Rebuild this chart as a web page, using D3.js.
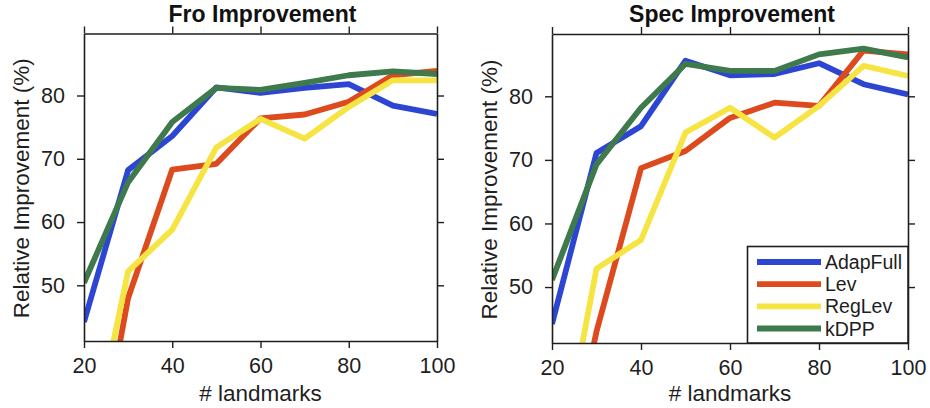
<!DOCTYPE html>
<html>
<head>
<meta charset="utf-8">
<script src="https://cdn.jsdelivr.net/npm/d3@7/dist/d3.min.js"></script>
<style>
  html, body { margin: 0; padding: 0; background: #fff; }
  svg { display: block; font-family: "Liberation Sans", Arial, Helvetica, sans-serif; }
</style>
</head>
<body>
<svg id="chart" width="930" height="408"></svg>
<script>
// Number of landmarks on the x axis
const landmarks = [20, 30, 40, 50, 60, 70, 80, 90, 100];

// Relative improvement (%) — Frobenius norm
const adapFullFro = [44.2, 68.2, 73.6, 81.3, 80.4, 81.2, 81.8, 78.4, 77.1];
const levFro      = [10.0, 48.0, 68.3, 69.2, 76.4, 77.0, 79.0, 83.2, 83.9];
const regLevFro   = [19.0, 52.2, 58.8, 71.8, 76.3, 73.2, 78.2, 82.4, 82.4];
const kdppFro     = [50.4, 66.3, 75.8, 81.2, 80.9, 82.0, 83.2, 83.8, 83.4];

// Relative improvement (%) — spectral norm
const adapFullSpec = [44.2, 71.1, 75.3, 85.6, 83.3, 83.5, 85.2, 81.9, 80.3];
const levSpec      = [10.0, 43.0, 68.7, 71.4, 76.6, 79.0, 78.5, 87.2, 86.6];
const regLevSpec   = [16.0, 52.9, 57.4, 74.3, 78.2, 73.5, 78.5, 84.8, 83.2];
const kdppSpec     = [51.1, 69.3, 78.2, 85.1, 84.0, 84.0, 86.6, 87.5, 86.1];

const seriesNames = ["AdapFull", "Lev", "RegLev", "kDPP"];
const seriesColors = ["#2d45d3", "#dd4a1e", "#f6e443", "#3e7a4c"];
const xTicks = [20, 40, 60, 80, 100];
const yTicks = [50, 60, 70, 80];

const panels = [
  { title: "Fro Improvement", series: [adapFullFro, levFro, regLevFro, kdppFro],
    box: { x0: 84, x1: 437, y0: 33.5, y1: 341 }, legend: false },
  { title: "Spec Improvement", series: [adapFullSpec, levSpec, regLevSpec, kdppSpec],
    box: { x0: 552, x1: 908, y0: 34, y1: 343 }, legend: true }
];

const svg = d3.select("#chart");
const ink = "#1e1e1e";

panels.forEach((p, pi) => {
  const b = p.box;
  const x = d3.scaleLinear().domain([20, 100]).range([b.x0, b.x1]);
  const y = d3.scaleLinear().domain([41.2, 89.8]).range([b.y1, b.y0]);
  const g = svg.append("g");

  const clipId = "clip" + pi;
  svg.append("clipPath").attr("id", clipId)
    .append("rect").attr("x", b.x0).attr("y", b.y0)
    .attr("width", b.x1 - b.x0).attr("height", b.y1 - b.y0);

  const line = d3.line()
    .x((d, i) => x(landmarks[i]))
    .y(d => y(d));

  const lines = g.append("g").attr("clip-path", `url(#${clipId})`);
  p.series.forEach((vals, si) => {
    lines.append("path")
      .datum(vals)
      .attr("d", line)
      .attr("fill", "none")
      .attr("stroke", seriesColors[si])
      .attr("stroke-width", 5.8)
      .attr("stroke-linejoin", "round");
  });

  // Axes on all four sides, ticks pointing outward
  const styleAxis = sel => {
    sel.select(".domain").attr("stroke", ink).attr("stroke-width", 1.6);
    sel.selectAll(".tick line").attr("stroke", ink).attr("stroke-width", 1.4);
  };
  const bottom = g.append("g").attr("transform", `translate(0,${b.y1})`)
    .call(d3.axisBottom(x).tickValues(xTicks).tickSize(7).tickSizeOuter(0).tickPadding(10));
  bottom.call(styleAxis);
  bottom.selectAll(".tick text").attr("font-size", 21.5).attr("fill", ink)
    .attr("font-family", "'Liberation Sans', Arial, sans-serif");

  const top = g.append("g").attr("transform", `translate(0,${b.y0})`)
    .call(d3.axisTop(x).tickValues(xTicks).tickSize(7).tickSizeOuter(0).tickFormat(""));
  top.call(styleAxis);

  const left = g.append("g").attr("transform", `translate(${b.x0},0)`)
    .call(d3.axisLeft(y).tickValues(yTicks).tickSize(7).tickSizeOuter(0).tickPadding(12));
  left.call(styleAxis);
  left.selectAll(".tick text").attr("font-size", 21.5).attr("fill", ink)
    .attr("font-family", "'Liberation Sans', Arial, sans-serif");

  const right = g.append("g").attr("transform", `translate(${b.x1},0)`)
    .call(d3.axisRight(y).tickValues(yTicks).tickSize(7).tickSizeOuter(0).tickFormat(""));
  right.call(styleAxis);

  const cx = (b.x0 + b.x1) / 2;
  // Title
  g.append("text").attr("x", cx + 2).attr("y", 22)
    .attr("text-anchor", "middle").attr("font-size", 23).attr("font-weight", "bold")
    .attr("fill", "#111").text(p.title);
  // X label
  g.append("text").attr("x", cx).attr("y", 401)
    .attr("text-anchor", "middle").attr("font-size", 22.5).attr("fill", ink)
    .text("# landmarks");
  // Y label
  const ly = (b.y0 + b.y1) / 2 + 1;
  g.append("text")
    .attr("transform", `translate(${b.x0 - 55},${ly}) rotate(-90)`)
    .attr("text-anchor", "middle").attr("font-size", 22.5).attr("fill", ink)
    .text("Relative Improvement (%)");

  if (p.legend) {
    const lx0 = 747.5, ly0 = 246.5;
    g.append("rect").attr("x", lx0).attr("y", ly0)
      .attr("width", b.x1 - lx0).attr("height", b.y1 - ly0)
      .attr("fill", "#fff").attr("stroke", ink).attr("stroke-width", 1.6);
    const rowY = d3.scalePoint().domain(seriesNames).range([262, 328.5]);
    seriesNames.forEach((name, si) => {
      const ry = rowY(name);
      g.append("line").attr("x1", 757).attr("x2", 821)
        .attr("y1", ry).attr("y2", ry)
        .attr("stroke", seriesColors[si]).attr("stroke-width", 5.8);
      g.append("text").attr("x", 825).attr("y", ry)
        .attr("dominant-baseline", "central")
        .attr("font-size", 19.5).attr("fill", ink).text(name);
    });
  }
});
</script>
</body>
</html>
